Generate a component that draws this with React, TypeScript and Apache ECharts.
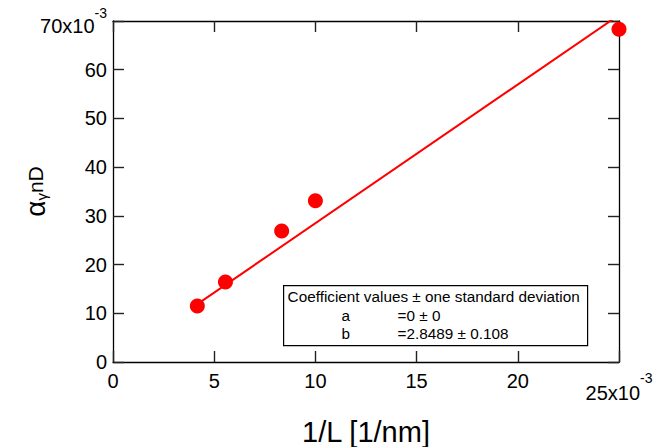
import React, { useEffect, useRef } from "react";
import * as echarts from "echarts";

const xValues = [4.1667, 5.5556, 8.3333, 10.0, 25.0];
const yValues = [11.5, 16.4, 26.9, 33.1, 68.3];
const fitX = [4.1667, 25.0];
const fitY = [11.87, 71.22];
const xTicks = { min: 0, max: 25, interval: 5 };
const yTicks = { min: 0, max: 70, interval: 10 };
const xName = "1/L [1/nm]";
const boxTitle = "Coefficient values ± one standard deviation";
const coefNames = ["a", "b"];
const coefValues = ["=0 ± 0", "=2.8489 ± 0.108"];

const FONT = "'Liberation Sans', Arial, sans-serif";
const TICK_COLOR = "#222222";

const mkLine = () => ({ show: true, onZero: false, lineStyle: { color: "#000", width: 1.3 } });
const mkTick = () => ({
  show: true,
  inside: true,
  length: 11,
  lineStyle: { color: TICK_COLOR, width: 1.4 },
});

export default function App() {
  const ref = useRef<HTMLDivElement>(null);
  useEffect(() => {
    document.body.style.margin = "0";
    const chart = echarts.init(ref.current!, null, { renderer: "svg" });
    chart.setOption({
      animation: false,
      grid: { left: 113, top: 21, right: 50, bottom: 85, containLabel: false, outerBoundsMode: "none" },
      xAxis: [
        {
          type: "value",
          position: "bottom",
          min: xTicks.min,
          max: xTicks.max,
          interval: xTicks.interval,
          axisLine: mkLine(),
          axisTick: mkTick(),
          splitLine: { show: false },
          axisLabel: {
            fontSize: 20,
            color: "#000",
            fontFamily: FONT,
            margin: 9,
            formatter: (v: number) => (v === xTicks.max ? "{b|" + v + "x10}{s|-3}" : String(v)),
            rich: {
              b: { fontSize: 20, fontFamily: FONT, color: "#000", padding: [12, 0, 0, 0] },
              s: { fontSize: 14, fontFamily: FONT, color: "#000", verticalAlign: "top" },
            },
          },
          name: xName,
          nameLocation: "middle",
          nameGap: 55,
          nameTextStyle: { fontSize: 29, color: "#000", fontFamily: FONT },
        },
        {
          type: "value",
          position: "top",
          min: xTicks.min,
          max: xTicks.max,
          interval: xTicks.interval,
          axisLine: mkLine(),
          axisTick: mkTick(),
          splitLine: { show: false },
          axisLabel: { show: false },
        },
      ],
      yAxis: [
        {
          type: "value",
          position: "left",
          min: yTicks.min,
          max: yTicks.max,
          interval: yTicks.interval,
          axisLine: mkLine(),
          axisTick: mkTick(),
          splitLine: { show: false },
          axisLabel: {
            fontSize: 20,
            color: "#000",
            fontFamily: FONT,
            margin: 6,
            formatter: (v: number) => (v === yTicks.max ? "{b|" + v + "x10}{s|-3}" : String(v)),
            rich: {
              b: { fontSize: 20, fontFamily: FONT, color: "#000", padding: [10, 0, 0, 0] },
              s: { fontSize: 14, fontFamily: FONT, color: "#000", verticalAlign: "top" },
            },
          },
          name: "{a|α}{g|γ}{n|nD}",
          nameLocation: "middle",
          nameRotate: 90,
          nameGap: 64,
          nameMoveOverlap: false,
          nameTextStyle: {
            color: "#000",
            fontFamily: FONT,
            rich: {
              a: { fontSize: 28, fontFamily: FONT, color: "#000" },
              g: { fontSize: 15, fontFamily: FONT, color: "#000", padding: [12, 0, 0, 0] },
              n: { fontSize: 21, fontFamily: FONT, color: "#000" },
            },
          },
        },
        {
          type: "value",
          position: "right",
          min: yTicks.min,
          max: yTicks.max,
          interval: yTicks.interval,
          axisLine: mkLine(),
          axisTick: mkTick(),
          splitLine: { show: false },
          axisLabel: { show: false },
        },
      ],
      series: [
        {
          type: "line",
          xAxisIndex: 0,
          yAxisIndex: 0,
          data: fitX.map((x, i) => [x, fitY[i]]),
          symbol: "none",
          clip: true,
          lineStyle: { color: "#ff0000", width: 2 },
          z: 2,
        },
        {
          type: "scatter",
          xAxisIndex: 0,
          yAxisIndex: 0,
          data: xValues.map((x, i) => [x, yValues[i]]),
          symbol: "circle",
          symbolSize: 15,
          itemStyle: { color: "#ff0000", opacity: 1 },
          clip: false,
          z: 3,
        },
      ],
      graphic: [
        {
          type: "group",
          left: 283,
          top: 285,
          z: 10,
          children: [
            {
              type: "rect",
              shape: { x: 0, y: 0, width: 304, height: 60 },
              style: { fill: "#fff", stroke: "#000", lineWidth: 1.2 },
            },
            {
              type: "text",
              x: 4,
              y: 11,
              style: { text: boxTitle, fontSize: 15.3, fontFamily: FONT, fill: "#000", verticalAlign: "middle" },
            },
            ...coefNames.map((n, i) => ({
              type: "text",
              x: 58,
              y: 30 + i * 18,
              style: { text: n, fontSize: 15.3, fontFamily: FONT, fill: "#000", verticalAlign: "middle" },
            })),
            ...coefValues.map((v, i) => ({
              type: "text",
              x: 114,
              y: 30 + i * 18,
              style: { text: v, fontSize: 15.3, fontFamily: FONT, fill: "#000", verticalAlign: "middle" },
            })),
          ],
        },
      ],
    });
    return () => chart.dispose();
  }, []);
  return <div ref={ref} style={{ width: 669, height: 447 }} />;
}
